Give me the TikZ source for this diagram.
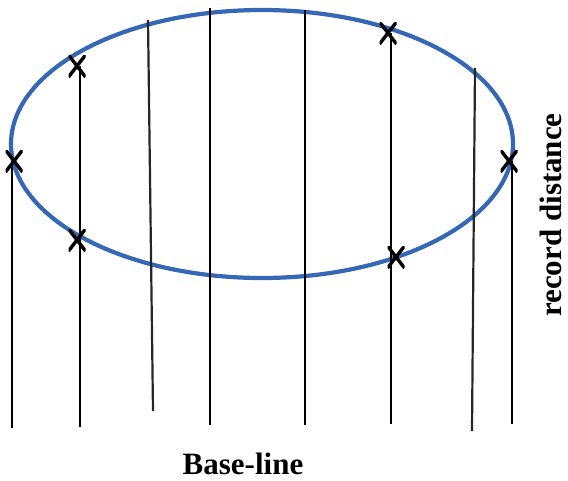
\documentclass[tikz,border=0pt]{standalone}
\usepackage{fontspec}
\setmainfont{Liberation Serif}
\definecolor{ellblue}{RGB}{52,103,180}
\begin{document}
\begin{tikzpicture}[x=1pt,y=-1pt,
  vline/.style={line width=1.4pt, black},
  sline/.style={line width=2.2pt, black!85},
  xmark/.style={minimum width=17pt, minimum height=22pt, inner sep=0pt, outer sep=0pt,
    path picture={\draw[line width=3.4pt, black]
      (path picture bounding box.south west) -- (path picture bounding box.north east)
      (path picture bounding box.north west) -- (path picture bounding box.south east);}},
  lbl/.style={font=\fontsize{31}{35}\selectfont\bfseries, inner sep=0pt}]
\useasboundingbox (0,0) rectangle (568,480);
% ellipse
\draw[ellblue, line width=4.2pt] (262,144) ellipse [x radius=251pt, y radius=134pt];
% bottom ends
\coordinate (b1) at (12,428);
\coordinate (b2) at (80,427);
\coordinate (b3) at (153,411);
\coordinate (b4) at (210,425);
\coordinate (b5) at (305,425);
\coordinate (b6) at (391,424);
\coordinate (b7) at (472,431);
\coordinate (b8) at (512,424);
% top ends
\coordinate (t3) at (148,20);
\coordinate (t4) at (210,8);
\coordinate (t5) at (305,10);
\coordinate (t7) at (475,68);
% X markers
\node[xmark] (m1) at (14,161) {};
\node[xmark] (m2) at (77,66) {};
\node[xmark] (m3) at (77,240) {};
\node[xmark] (m4) at (388,33) {};
\node[xmark] (m5) at (396,257) {};
\node[xmark] (m6) at (509,161) {};
% vertical lines
\draw[vline] (12,161) -- (b1);
\draw[vline] (80,66) -- (b2);
\draw[sline] (t3) -- (b3);
\draw[vline] (t4) -- (b4);
\draw[vline] (t5) -- (b5);
\draw[vline] (391,33) -- (b6);
\draw[sline] (t7) -- (b7);
\draw[vline] (512,161) -- (b8);
% labels
\node[lbl, anchor=base] (base) at (243,474) {Base-line};
\node[lbl, rotate=90, anchor=base] (rec) at (561,215) {record distance};
\end{tikzpicture}
\end{document}
